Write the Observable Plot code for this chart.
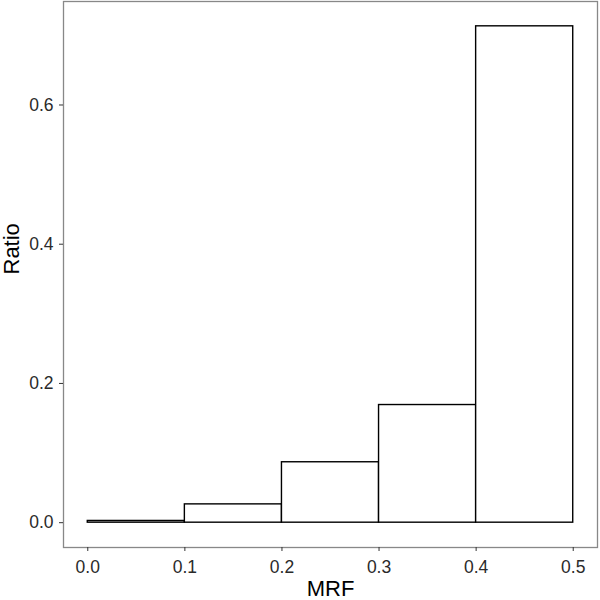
<!DOCTYPE html>
<html>
<head>
<meta charset="utf-8">
<script src="https://cdn.jsdelivr.net/npm/d3@7"></script>
<script src="https://cdn.jsdelivr.net/npm/@observablehq/plot@0.6"></script>
<style>
  body { margin: 0; background: #fff; }
  #chart svg { display: block; }
</style>
</head>
<body>
<div id="chart"></div>
<script>
const binStart = [0.0, 0.1, 0.2, 0.3, 0.4];
const binEnd = [0.1, 0.2, 0.3, 0.4, 0.5];
const ratio = [0.0025, 0.0263, 0.0868, 0.169, 0.713];
const xTicks = [0.0, 0.1, 0.2, 0.3, 0.4, 0.5];
const yTicks = [0.0, 0.2, 0.4, 0.6];
const xTitle = "MRF";
const yTitle = "Ratio";

const bins = binStart.map((s, i) => ({x1: s, x2: binEnd[i], y: ratio[i]}));
const font = "Liberation Sans, Arial, sans-serif";

const plot = Plot.plot({
  width: 600,
  height: 600,
  marginLeft: 63,
  marginRight: 3,
  marginTop: 1,
  marginBottom: 53,
  style: {fontFamily: font, background: "#fff"},
  x: {domain: [-0.025, 0.525]},
  y: {domain: [-0.03565, 0.74865]},
  marks: [
    Plot.rect(bins, {x1: "x1", x2: "x2", y1: 0, y2: "y", fill: "white", stroke: "black", strokeWidth: 1.4}),
    Plot.frame({stroke: "#888888", strokeWidth: 1.3}),
    Plot.axisX({ticks: xTicks, tickFormat: d3.format(".1f"), tickSize: 4, tickPadding: 9, fontSize: 17.5, color: "#2a2a2a", stroke: "#333", label: null}),
    Plot.axisY({ticks: yTicks, tickFormat: d3.format(".1f"), tickSize: 4, tickPadding: 6, fontSize: 17.5, color: "#2a2a2a", stroke: "#333", label: null}),
    Plot.text([xTitle], {frameAnchor: "bottom", dy: 41, fontSize: 22, fill: "black", lineAnchor: "middle"}),
    Plot.text([yTitle], {frameAnchor: "left", dx: -52, rotate: -90, fontSize: 22, fill: "black", lineAnchor: "middle"})
  ]
});
document.getElementById("chart").appendChild(plot);
</script>
</body>
</html>
